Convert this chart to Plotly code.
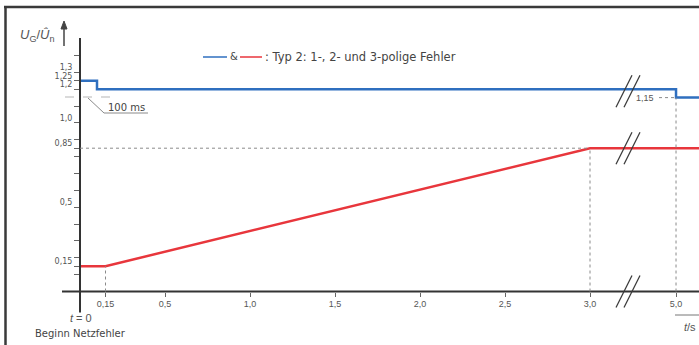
import plotly.graph_objects as go

# ---------------- data ----------------
blue_t = [0.0, 0.1, 5.0, 5.2]          # time in s (step, hv)
blue_v = [1.25, 1.2, 1.15, 1.15]
red_t = [0.0, 0.15, 3.0, 5.2]
red_v = [0.15, 0.15, 0.85, 0.85]

x_tick_vals = [0.15, 0.5, 1.0, 1.5, 2.0, 2.5, 3.0, 5.0]
x_tick_text = ["0,15", "0,5", "1,0", "1,5", "2,0", "2,5", "3,0", "5,0"]

y_label_vals = [0.15, 0.5, 0.85, 1.0, 1.2, 1.25, 1.3]
y_label_text = ["0,15", "0,5", "0,85", "1,0", "1,2", "1,25", "1,3"]
y_minor_vals = [0.1, 0.2, 0.3, 0.4, 0.6, 0.7, 0.8, 0.9, 1.1, 1.4]

legend_text = ": Typ 2: 1-, 2- und 3-polige Fehler"

# ---------------- broken time axis ----------------
BREAK_FROM, BREAK_TO, BREAK_GAP = 3.0, 5.0, 0.506


def to_axis(t):
    return t if t <= BREAK_FROM else BREAK_FROM + BREAK_GAP + (t - BREAK_TO)


W, H = 699, 345
X0PX, XSCALE = 80.0, 170.0      # pixel of t=0, px per unit
Y0PX, YSCALE = 291.5, 168.6     # pixel of v=0, px per unit
XR = [-X0PX / XSCALE, (W - X0PX) / XSCALE]
YR = [(Y0PX - H) / YSCALE, Y0PX / YSCALE]


def px(x):
    return x / W


def py(y):
    return 1 - y / H


def dx(p):
    return p / XSCALE


def dy(p):
    return p / YSCALE


BLUE = "#2f6fbf"
RED = "#e8363c"
AX = "#333333"
TXT = "#555555"
GUIDE = "#8a8a8a"
FONT = "Liberation Sans, Arial, sans-serif"
FONT_W = "DejaVu Sans, Verdana, sans-serif"

fig = go.Figure()

fig.add_trace(go.Scatter(x=[to_axis(t) for t in blue_t], y=blue_v, mode="lines",
                         line=dict(color=BLUE, width=2.5, shape="hv"),
                         hoverinfo="skip", showlegend=False))
fig.add_trace(go.Scatter(x=[to_axis(t) for t in red_t], y=red_v, mode="lines",
                         line=dict(color=RED, width=2.5),
                         hoverinfo="skip", showlegend=False))

shapes = []
# axes lines
shapes.append(dict(type="line", xref="x", yref="y", x0=-dx(18), x1=XR[1], y0=0, y1=0,
                   line=dict(color=AX, width=2)))
shapes.append(dict(type="line", xref="x", yref="y", x0=0, x1=0, y0=-dy(21), y1=dy(Y0PX - 38),
                   line=dict(color=AX, width=2)))

# dotted guide lines
gl = dict(color=GUIDE, width=1, dash="dot")
shapes.append(dict(type="line", xref="x", yref="y", x0=0, x1=to_axis(3.0), y0=0.85, y1=0.85, line=gl))
shapes.append(dict(type="line", xref="x", yref="y", x0=to_axis(0.15), x1=to_axis(0.15), y0=0, y1=0.15, line=gl))
shapes.append(dict(type="line", xref="x", yref="y", x0=to_axis(3.0), x1=to_axis(3.0), y0=0, y1=0.85, line=gl))
shapes.append(dict(type="line", xref="x", yref="y", x0=to_axis(5.0), x1=to_axis(5.0), y0=0, y1=1.15, line=gl))
shapes.append(dict(type="line", xref="x", yref="y", x0=to_axis(5.0) - dx(17), x1=to_axis(5.0), y0=1.15, y1=1.15, line=gl))

# break marks  (centre at time-axis position between 3.0 and 5.0)
bx = to_axis(BREAK_FROM) + dx(38)
for cy_val, half_h in [(1.2 - dy(2), 16), (0.85, 16), (0.0, 16)]:
    for off in (-4, 4):
        shapes.append(dict(type="line", xref="x", yref="y",
                           x0=bx + dx(off - 8), x1=bx + dx(off + 8),
                           y0=cy_val - dy(half_h), y1=cy_val + dy(half_h),
                           line=dict(color="#3a3a3a", width=1.3)))

# 100 ms dimension annotation
shapes.append(dict(type="line", xref="paper", yref="paper", x0=px(65), x1=px(113), y0=py(97), y1=py(97),
                   line=dict(color="#b5b5b5", width=1, dash="dash")))
shapes.append(dict(type="path", xref="paper", yref="paper",
                   path=f"M {px(88)},{py(98)} L {px(104)},{py(113)} L {px(148)},{py(113)}",
                   line=dict(color="#8a8a8a", width=1)))

# underline after 5,0
shapes.append(dict(type="line", xref="paper", yref="paper", x0=px(675), x1=px(699), y0=py(315), y1=py(315),
                   line=dict(color="#777777", width=1)))

# legend line samples
shapes.append(dict(type="line", xref="paper", yref="paper", x0=px(203), x1=px(227), y0=py(57), y1=py(57),
                   line=dict(color=BLUE, width=1.5)))
shapes.append(dict(type="line", xref="paper", yref="paper", x0=px(240), x1=px(262), y0=py(57), y1=py(57),
                   line=dict(color=RED, width=1.5)))

# y-axis arrow (shaft + head)
shapes.append(dict(type="line", xref="paper", yref="paper", x0=px(64), x1=px(64), y0=py(46), y1=py(27),
                   line=dict(color="#444444", width=1.5)))
shapes.append(dict(type="path", xref="paper", yref="paper",
                   path=f"M {px(61)},{py(29)} L {px(64)},{py(21)} L {px(67)},{py(29)} Z",
                   fillcolor="#444444", line=dict(color="#444444", width=1)))

# frame (scan border)
shapes.append(dict(type="line", xref="paper", yref="paper", x0=px(4), x1=1, y0=py(7), y1=py(7),
                   line=dict(color="#3a3a3a", width=2.5)))
shapes.append(dict(type="line", xref="paper", yref="paper", x0=px(5.5), x1=px(5.5), y0=py(6), y1=0,
                   line=dict(color="#3a3a3a", width=2.5)))


def note(x, y, text, size=10, color="#444444", xanchor="center", xref="paper", yref="paper", family=FONT):
    return dict(xref=xref, yref=yref, x=x, y=y, text=text, showarrow=False,
                xanchor=xanchor, yanchor="middle",
                font=dict(family=family, size=size, color=color))


ann = []
# y axis title
ann.append(note(px(37), py(35), "<i>U</i><sub>G</sub>/<i>Û</i><sub>n</sub>", size=13, color=TXT))
# legend texts
ann.append(note(px(234), py(57), "&", size=10, family=FONT_W))
ann.append(note(px(263), py(57), legend_text, xanchor="left", size=11.5, family=FONT_W))
# 100 ms
ann.append(note(px(127), py(107), "100 ms", size=10, family=FONT_W))
# 1,15
ann.append(note(to_axis(5.0) - dx(20), 1.15, "1,15", size=9, color=TXT, xanchor="right", xref="x", yref="y"))
# bottom texts
ann.append(note(px(81), py(318), "<i>t</i> = 0", size=11, color=TXT))
ann.append(note(px(80), py(333), "Beginn Netzfehler", size=10, family=FONT_W))
ann.append(note(px(698), py(327), "<i>t</i>/s", size=11, color=TXT, xanchor="right"))

fig.update_layout(
    width=W, height=H,
    margin=dict(l=0, r=0, t=0, b=0),
    paper_bgcolor="white", plot_bgcolor="white",
    showlegend=False,
    font=dict(family=FONT, color=TXT),
    xaxis=dict(range=XR, domain=[0, 1], anchor="free", position=py(Y0PX),
               showgrid=False, zeroline=False, showline=False,
               tickmode="array", tickvals=[to_axis(t) for t in x_tick_vals], ticktext=x_tick_text,
               ticks="outside", ticklen=4, tickwidth=1, tickcolor="#666666",
               tickfont=dict(family=FONT, size=9, color=TXT), fixedrange=True),
    yaxis=dict(range=YR, domain=[0, 1], anchor="free", position=px(X0PX),
               showgrid=False, zeroline=False, showline=False,
               tickmode="array", tickvals=y_label_vals, ticktext=y_label_text,
               ticks="outside", ticklen=6, tickwidth=1, tickcolor="#666666",
               ticklabelshift=-5, ticklabelstandoff=0,
               minor=dict(tickmode="array", tickvals=y_minor_vals, ticks="outside",
                          ticklen=6, tickwidth=1, tickcolor="#666666", showgrid=False),
               tickfont=dict(family=FONT_W, size=8, color=TXT), fixedrange=True),
    shapes=shapes,
    annotations=ann,
)

fig.write_html("out.html", config={"displayModeBar": False},
               post_script="document.body.style.margin='0px';")
